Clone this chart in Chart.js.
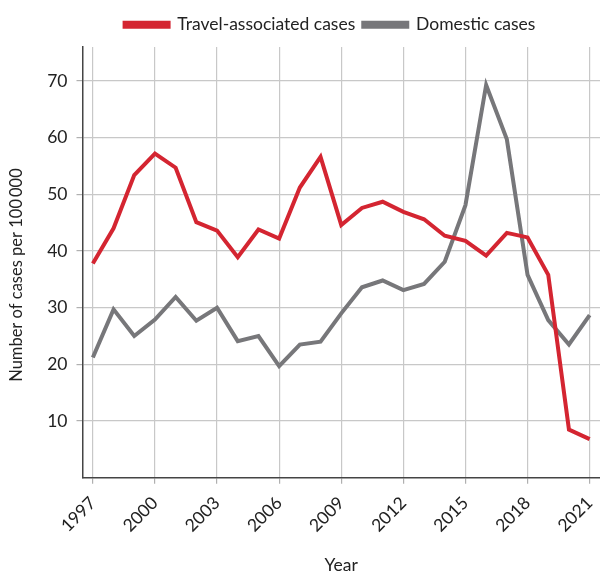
<!DOCTYPE html>
<html>
<head>
<meta charset="utf-8">
<script src="https://cdn.jsdelivr.net/npm/chart.js@4"></script>
<style>
  html, body { margin: 0; padding: 0; overflow: hidden; background: #fff; }
  #wrap { width: 600px; height: 580px; }
</style>
</head>
<body>
<div id="wrap"><canvas id="chart"></canvas></div>
<script>
// Chart data
const years = [1997, 1998, 1999, 2000, 2001, 2002, 2003, 2004, 2005, 2006, 2007, 2008, 2009,
               2010, 2011, 2012, 2013, 2014, 2015, 2016, 2017, 2018, 2019, 2020, 2021];
const travelCases = [37.8, 44.0, 53.4, 57.2, 54.7, 45.1, 43.6, 38.9, 43.8, 42.2, 51.2, 56.6, 44.6,
                     47.6, 48.7, 46.9, 45.6, 42.7, 41.8, 39.2, 43.2, 42.4, 35.8, 8.5, 6.8];
const domesticCases = [21.2, 29.7, 25.0, 27.9, 31.9, 27.7, 30.0, 24.1, 25.0, 19.7, 23.5, 24.0, 29.0,
                       33.6, 34.8, 33.1, 34.2, 38.1, 48.1, 69.3, 59.7, 35.8, 27.8, 23.5, 28.7];
const yTicks = [10, 20, 30, 40, 50, 60, 70];

const font = { family: 'Lato, "Noto Sans", sans-serif', size: 17.5 };
const titleFont = { family: 'Lato, "Noto Sans", sans-serif', size: 16.5 };

// Fixed legend height, and legend centred over the plot rather than the canvas
const legendPlacement = {
    id: 'legendPlacement',
    beforeInit(chart) {
        const origFit = chart.legend.fit;
        chart.legend.fit = function () {
            origFit.call(this);
            this.height = 39;
        };
    },
    afterLayout(chart) {
        chart.legend.left = 60;
    }
};

const ctx = document.getElementById('chart').getContext('2d');
new Chart(ctx, {
    type: 'line',
    data: {
        labels: years,
        datasets: [
            {
                label: 'Travel-associated cases',
                data: travelCases,
                borderColor: '#d42531',
                backgroundColor: '#d42531',
                borderWidth: 4,
                pointRadius: 0,
                tension: 0
            },
            {
                label: 'Domestic cases',
                data: domesticCases,
                borderColor: '#77777a',
                backgroundColor: '#77777a',
                borderWidth: 4,
                pointRadius: 0,
                tension: 0
            }
        ]
    },
    plugins: [legendPlacement],
    options: {
        responsive: true,
        maintainAspectRatio: false,
        animation: false,
        layout: { padding: { top: 8, right: 0, left: 0, bottom: 0 } },
        plugins: {
            legend: {
                position: 'top',
                labels: {
                    font: font,
                    color: '#222',
                    boxWidth: 44,
                    boxHeight: 4,
                    padding: 8
                }
            },
            tooltip: { enabled: false }
        },
        scales: {
            x: {
                type: 'category',
                offset: true,
                afterFit: (axis) => {
                    axis.height = 102.3;
                    axis.paddingLeft = 0;
                    axis.paddingRight = 0;
                },
                grid: {
                    offset: false,
                    color: (c) => (c.index % 3 === 0 ? '#c8c8c8' : 'rgba(0,0,0,0)'),
                    tickColor: (c) => (c.index % 3 === 0 ? '#b0b0b0' : 'rgba(0,0,0,0)'),
                    tickLength: 6,
                    lineWidth: 1.2
                },
                border: { color: '#444', width: 1.5 },
                ticks: {
                    autoSkip: false,
                    maxRotation: 45,
                    minRotation: 45,
                    font: font,
                    color: '#222',
                    padding: 9,
                    callback: function (value, index) {
                        return index % 3 === 0 ? this.getLabelForValue(value) : '';
                    }
                },
                title: {
                    display: true,
                    text: 'Year',
                    font: font,
                    color: '#222',
                    padding: { top: 0, bottom: 4 }
                }
            },
            y: {
                min: 0,
                max: 76,
                afterBuildTicks: (axis) => {
                    axis.ticks = yTicks.map(v => ({ value: v }));
                },
                afterFit: (axis) => {
                    axis.width = 82.5;
                    axis.paddingTop = 0;
                    axis.paddingBottom = 0;
                },
                grid: {
                    color: '#c8c8c8',
                    tickColor: '#b0b0b0',
                    tickLength: 6,
                    lineWidth: 1.2
                },
                border: { color: '#444', width: 1.5 },
                ticks: {
                    font: font,
                    color: '#222',
                    padding: 9
                },
                title: {
                    display: true,
                    // trailing no-break spaces nudge the title a little lower, as in the original
                    text: 'Number of cases per 100\u2009000\u00A0\u00A0\u00A0\u00A0\u00A0\u00A0',
                    font: titleFont,
                    color: '#222',
                    padding: { top: 7, bottom: 0 }
                }
            }
        }
    }
});
</script>
</body>
</html>
